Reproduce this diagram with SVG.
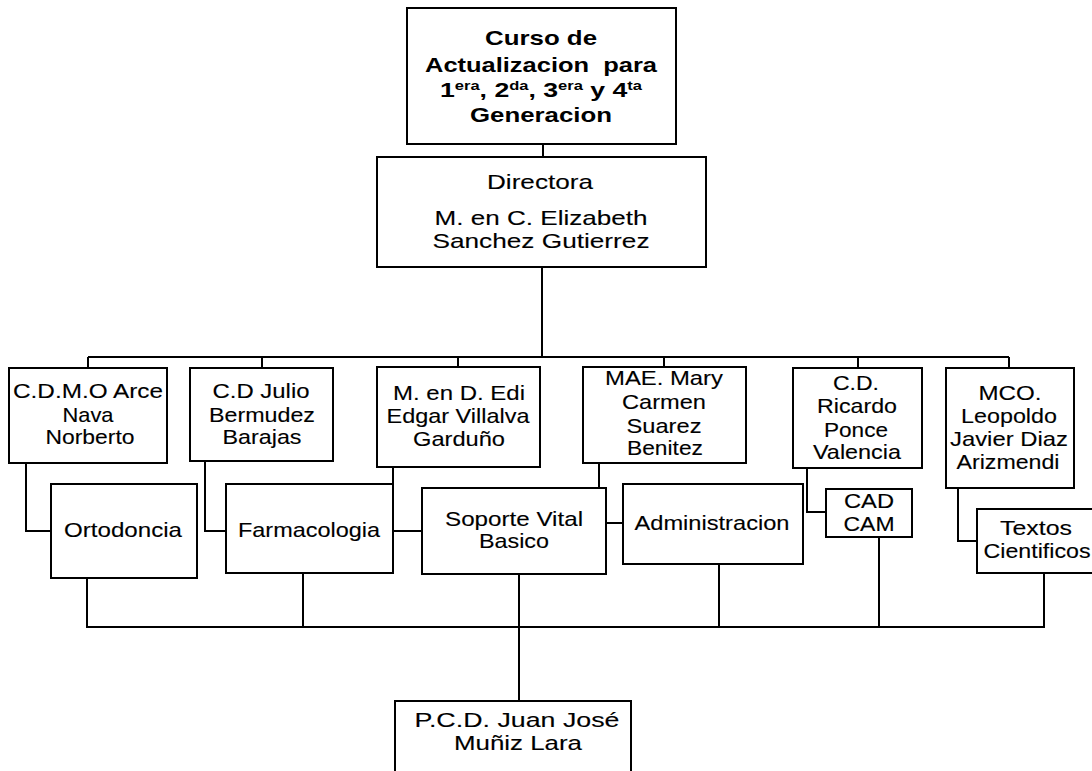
<svg xmlns="http://www.w3.org/2000/svg" width="1092" height="771" viewBox="0 0 1092 771">
<style>
.b{fill:#fff;stroke:#000;stroke-width:2}
.c{fill:none;stroke:#000;stroke-width:2}
text{font-family:"Liberation Sans",Arial,sans-serif;font-size:21px;fill:#000;stroke:#000;stroke-width:0.12;text-anchor:middle}
.t{font-weight:bold;font-size:21px;stroke-width:0}
.s{font-size:13px}
</style>
<rect width="1092" height="771" fill="#fff"/>
<g id="connectors">
<path class="c" d="M543 144V157"/>
<path class="c" d="M542 267V357"/>
<path class="c" d="M88 357H1009"/>
<path class="c" d="M88 357V368M262 357V368M458 357V367M664 357V367M858 357V368M1009 357V368"/>
<path class="c" d="M26 463V531H51"/>
<path class="c" d="M205 461V531H226"/>
<path class="c" d="M393 467V531H422"/>
<path class="c" d="M599 463V523H623"/>
<path class="c" d="M807 468V512H826"/>
<path class="c" d="M958 488V541H977"/>
<path class="c" d="M87 578V627H1044V573"/>
<path class="c" d="M303 573V627M719 564V627M879 537V627"/>
<path class="c" d="M519 574V701"/>
</g>
<g id="title">
<rect class="b" x="407" y="8" width="269" height="136"/>
<text class="t" x="541" y="45" textLength="112" lengthAdjust="spacingAndGlyphs">Curso de</text>
<text class="t" x="541" y="72" xml:space="preserve" textLength="232" lengthAdjust="spacingAndGlyphs">Actualizacion  para</text>
<text class="t" x="541" y="97" textLength="202" lengthAdjust="spacingAndGlyphs">1<tspan class="s" dy="-7">era</tspan><tspan dy="7">, 2</tspan><tspan class="s" dy="-7">da</tspan><tspan dy="7">, 3</tspan><tspan class="s" dy="-7">era</tspan><tspan dy="7"> y 4</tspan><tspan class="s" dy="-7">ta</tspan></text>
<text class="t" x="541" y="122" textLength="142" lengthAdjust="spacingAndGlyphs">Generacion</text>
</g>
<g id="directora">
<rect class="b" x="377" y="157" width="329" height="110"/>
<text x="540" y="189" textLength="106" lengthAdjust="spacingAndGlyphs">Directora</text>
<text x="541" y="225" textLength="213" lengthAdjust="spacingAndGlyphs">M. en C. Elizabeth</text>
<text x="541" y="248" textLength="217" lengthAdjust="spacingAndGlyphs">Sanchez Gutierrez</text>
</g>
<g id="arce">
<rect class="b" x="9" y="368" width="158" height="95"/>
<text x="88" y="398" textLength="150" lengthAdjust="spacingAndGlyphs">C.D.M.O Arce</text>
<text x="88" y="422" textLength="51" lengthAdjust="spacingAndGlyphs">Nava</text>
<text x="90" y="444" textLength="89" lengthAdjust="spacingAndGlyphs">Norberto</text>
</g>
<g id="julio">
<rect class="b" x="190" y="368" width="143" height="93"/>
<text x="261" y="398" textLength="97" lengthAdjust="spacingAndGlyphs">C.D Julio</text>
<text x="262" y="422" textLength="106" lengthAdjust="spacingAndGlyphs">Bermudez</text>
<text x="262" y="444" textLength="79" lengthAdjust="spacingAndGlyphs">Barajas</text>
</g>
<g id="edi">
<rect class="b" x="377" y="367" width="163" height="100"/>
<text x="459" y="400" textLength="132" lengthAdjust="spacingAndGlyphs">M. en D. Edi</text>
<text x="458" y="423" textLength="143" lengthAdjust="spacingAndGlyphs">Edgar Villalva</text>
<text x="459" y="446" textLength="92" lengthAdjust="spacingAndGlyphs">Garduño</text>
</g>
<g id="mary">
<rect class="b" x="583" y="367" width="163" height="96"/>
<text x="664" y="385" textLength="118" lengthAdjust="spacingAndGlyphs">MAE. Mary</text>
<text x="664" y="409" textLength="84" lengthAdjust="spacingAndGlyphs">Carmen</text>
<text x="664" y="433" textLength="75" lengthAdjust="spacingAndGlyphs">Suarez</text>
<text x="665" y="455" textLength="76" lengthAdjust="spacingAndGlyphs">Benitez</text>
</g>
<g id="ricardo">
<rect class="b" x="793" y="368" width="129" height="100"/>
<text x="856" y="390" textLength="46" lengthAdjust="spacingAndGlyphs">C.D.</text>
<text x="857" y="413" textLength="80" lengthAdjust="spacingAndGlyphs">Ricardo</text>
<text x="856" y="437" textLength="64" lengthAdjust="spacingAndGlyphs">Ponce</text>
<text x="857" y="459" textLength="88" lengthAdjust="spacingAndGlyphs">Valencia</text>
</g>
<g id="leopoldo">
<rect class="b" x="946" y="368" width="128" height="120"/>
<text x="1010" y="400" textLength="63" lengthAdjust="spacingAndGlyphs">MCO.</text>
<text x="1009" y="423" textLength="96" lengthAdjust="spacingAndGlyphs">Leopoldo</text>
<text x="1009" y="446" textLength="118" lengthAdjust="spacingAndGlyphs">Javier Diaz</text>
<text x="1008" y="469" textLength="103" lengthAdjust="spacingAndGlyphs">Arizmendi</text>
</g>
<g id="ortodoncia">
<rect class="b" x="51" y="484" width="146" height="94"/>
<text x="123" y="537" textLength="118" lengthAdjust="spacingAndGlyphs">Ortodoncia</text>
</g>
<g id="farmacologia">
<rect class="b" x="226" y="484" width="167" height="89"/>
<text x="309" y="537" textLength="142" lengthAdjust="spacingAndGlyphs">Farmacologia</text>
</g>
<g id="soporte">
<rect class="b" x="422" y="488" width="184" height="86"/>
<text x="514" y="526" textLength="138" lengthAdjust="spacingAndGlyphs">Soporte Vital</text>
<text x="514" y="548" textLength="70" lengthAdjust="spacingAndGlyphs">Basico</text>
</g>
<g id="administracion">
<rect class="b" x="623" y="484" width="180" height="80"/>
<text x="712" y="530" textLength="155" lengthAdjust="spacingAndGlyphs">Administracion</text>
</g>
<g id="cadcam">
<rect class="b" x="826" y="489" width="86" height="48"/>
<text x="869" y="508" textLength="50" lengthAdjust="spacingAndGlyphs">CAD</text>
<text x="869" y="531" textLength="51" lengthAdjust="spacingAndGlyphs">CAM</text>
</g>
<g id="textos">
<rect class="b" x="977" y="509" width="120" height="64"/>
<text x="1036" y="535" textLength="72" lengthAdjust="spacingAndGlyphs">Textos</text>
<text x="1037" y="558" textLength="107" lengthAdjust="spacingAndGlyphs">Cientificos</text>
</g>
<g id="juan">
<rect class="b" x="395" y="701" width="236" height="80"/>
<text x="517" y="727" textLength="205" lengthAdjust="spacingAndGlyphs">P.C.D. Juan José</text>
<text x="518" y="750" textLength="128" lengthAdjust="spacingAndGlyphs">Muñiz Lara</text>
</g>
</svg>
